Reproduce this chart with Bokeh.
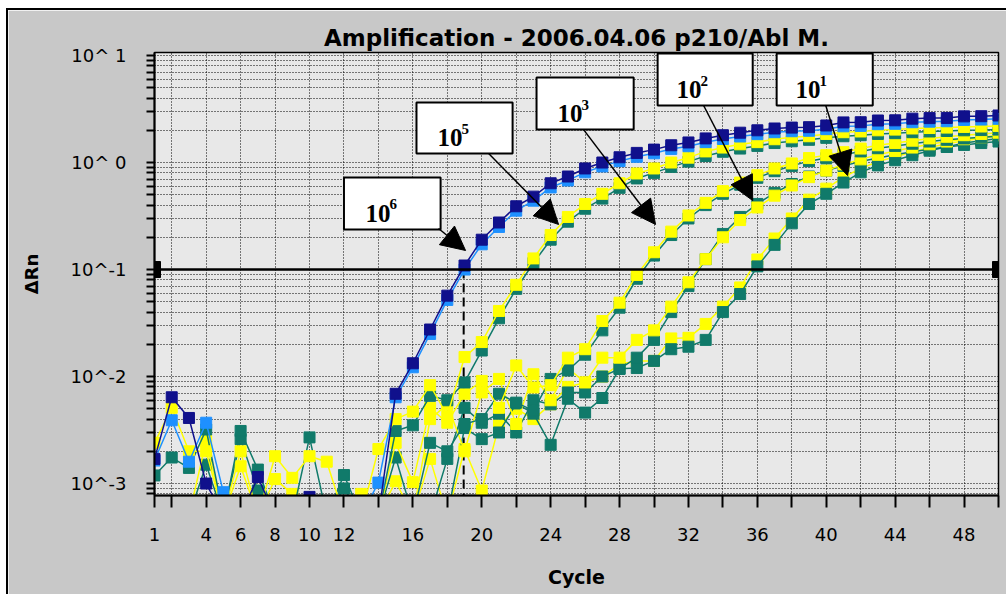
from bokeh.plotting import figure
from bokeh.models import (Range1d, FixedTicker, CustomJSTickFormatter, Span, BoxAnnotation,
                          Label, Arrow, NormalHead)
from bokeh.embed import file_html
from bokeh.resources import INLINE

# ---------------- data ----------------
cycles = list(range(1, 51))

# 10^6 (two replicates)
n6 = [1.7e-3, 6.4e-3, 4.1e-3, 1.0e-3, 5e-4, 5e-4, 1.15e-3, 5e-4, 5e-4, 7.5e-4,
      5e-4, 5e-4, 5e-4, 5e-4, 6.9e-3, 1.33e-2, 2.75e-2, 5.7e-2, 0.109, 0.19,
      0.275, 0.39, 0.48, 0.64, 0.74, 0.88, 1.0, 1.12, 1.23, 1.32,
      1.45, 1.54, 1.68, 1.8, 1.9, 2.0, 2.08, 2.12, 2.14, 2.22,
      2.37, 2.38, 2.47, 2.48, 2.57, 2.6, 2.61, 2.7, 2.71, 2.75]
b6 = [1.64e-3, 3.9e-3, 1.6e-3, 3.7e-3, 8.3e-4, 5e-4, 5e-4, 5e-4, 5e-4, 5e-4,
      5e-4, 5e-4, 5e-4, 1.02e-3, 6.4e-3, 1.22e-2, 2.5e-2, 5.2e-2, 0.1, 0.172,
      0.25, 0.355, 0.44, 0.585, 0.68, 0.81, 0.92, 1.03, 1.13, 1.22,
      1.34, 1.42, 1.55, 1.66, 1.75, 1.84, 1.92, 1.96, 1.98, 2.05,
      2.18, 2.2, 2.28, 2.3, 2.38, 2.41, 2.43, 2.5, 2.52, 2.56]
# 10^5
y5 = [2.4e-3, 5.1e-3, 2.0e-3, 2.0e-3, 5e-4, 2.0e-3, 5e-4, 1.8e-3, 1.13e-3, 1.8e-3,
      1.6e-3, 5e-4, 5e-4, 2.1e-3, 4.0e-3, 4.7e-3, 8.3e-3, 4.3e-3, 1.52e-2, 2.1e-2,
      4.1e-2, 7.2e-2, 0.127, 0.21, 0.31, 0.41, 0.51, 0.64, 0.79, 0.88,
      1.0, 1.11, 1.27, 1.38, 1.48, 1.55, 1.65, 1.72, 1.76, 1.85,
      1.92, 1.95, 2.0, 2.03, 2.08, 2.1, 2.12, 2.15, 2.17, 2.2]
t5 = [1.19e-3, 1.75e-3, 1.4e-3, 3.2e-3, 5e-4, 3.1e-3, 1.35e-3, 5e-4, 5e-4, 2.7e-3,
      5e-4, 1.2e-3, 5e-4, 5e-4, 3.1e-3, 3.5e-3, 6.6e-3, 6.0e-3, 8.8e-3, 1.75e-2,
      3.5e-2, 6.6e-2, 0.115, 0.19, 0.28, 0.37, 0.46, 0.58, 0.71, 0.8,
      0.91, 1.02, 1.15, 1.26, 1.35, 1.43, 1.52, 1.58, 1.63, 1.7,
      1.76, 1.8, 1.85, 1.88, 1.92, 1.95, 1.97, 2.0, 2.01, 2.03]
# 10^3
y3 = [5e-4, 5e-4, 5e-4, 2.5e-3, 5e-4, 1.45e-3, 5e-4, 1.1e-3, 8e-4, 5e-4,
      5e-4, 5e-4, 8e-4, 5e-4, 2.4e-3, 1.03e-3, 5.1e-3, 3.7e-3, 6.9e-3, 9.1e-3,
      5.1e-3, 1.27e-2, 7.9e-3, 8.3e-3, 1.5e-2, 1.8e-2, 3.3e-2, 4.9e-2, 8.9e-2, 0.145,
      0.226, 0.32, 0.42, 0.54, 0.65, 0.76, 0.88, 0.98, 1.1, 1.17,
      1.25, 1.35, 1.45, 1.52, 1.6, 1.68, 1.74, 1.8, 1.85, 1.9]
t3 = [5e-4, 5e-4, 5e-4, 1.5e-3, 5e-4, 2.6e-3, 8.6e-4, 5e-4, 5e-4, 5e-4,
      5e-4, 9e-4, 5e-4, 5e-4, 1.75e-3, 5e-4, 2.4e-3, 2.0e-3, 3.6e-3, 4.0e-3,
      6.9e-3, 5.7e-3, 4.8e-3, 9.5e-3, 1.14e-2, 1.6e-2, 2.7e-2, 4.4e-2, 8.2e-2, 0.135,
      0.21, 0.3, 0.4, 0.51, 0.62, 0.72, 0.83, 0.93, 1.03, 1.1,
      1.18, 1.27, 1.36, 1.43, 1.5, 1.57, 1.63, 1.68, 1.72, 1.76]
# 10^2
y2 = [5e-4, 5e-4, 5e-4, 5e-4, 5e-4, 5e-4, 5e-4, 5e-4, 5e-4, 5e-4,
      5e-4, 5e-4, 5e-4, 5e-4, 1.05e-3, 5e-4, 4.0e-3, 5.5e-3, 2.0e-3, 7.1e-3,
      9.5e-3, 3.6e-3, 1.05e-2, 6.0e-3, 1.2e-2, 8.8e-3, 1.5e-2, 1.5e-2, 2.2e-2, 2.7e-2,
      4.5e-2, 7.6e-2, 0.125, 0.2, 0.29, 0.38, 0.49, 0.61, 0.73, 0.84,
      0.96, 1.07, 1.18, 1.28, 1.38, 1.48, 1.57, 1.65, 1.72, 1.8]
t2 = [5e-4, 5e-4, 5e-4, 5e-4, 5e-4, 5e-4, 5e-4, 5e-4, 5e-4, 5e-4,
      5e-4, 5e-4, 5e-4, 5e-4, 5e-4, 5e-4, 5e-4, 1.7e-3, 5.1e-3, 3.7e-3,
      4.5e-3, 3.0e-3, 6.0e-3, 5.5e-3, 7.1e-3, 7.1e-3, 1.0e-2, 1.18e-2, 1.5e-2, 2.2e-2,
      4.0e-2, 7.0e-2, 0.125, 0.215, 0.31, 0.41, 0.52, 0.63, 0.74, 0.84,
      0.93, 1.02, 1.1, 1.18, 1.26, 1.33, 1.4, 1.46, 1.52, 1.57]
# 10^1
y1 = [5e-4, 5e-4, 5e-4, 5e-4, 5e-4, 5e-4, 5e-4, 5e-4, 5e-4, 5e-4,
      5e-4, 5e-4, 5e-4, 5e-4, 5e-4, 5e-4, 1.7e-3, 5e-4, 2.1e-3, 8.6e-4,
      3.5e-3, 5.0e-3, 4.0e-3, 5.5e-3, 8.0e-3, 8.8e-3, 1.0e-2, 1.3e-2, 1.4e-2, 1.4e-2,
      2.27e-2, 2.3e-2, 3.1e-2, 4.5e-2, 6.8e-2, 0.124, 0.195, 0.3, 0.45, 0.57,
      0.73, 0.88, 1.02, 1.13, 1.25, 1.38, 1.5, 1.6, 1.68, 1.76]
t1 = [5e-4, 5e-4, 5e-4, 5e-4, 5e-4, 5e-4, 5e-4, 5e-4, 5e-4, 5e-4,
      5e-4, 5e-4, 5e-4, 5e-4, 5e-4, 5e-4, 5e-4, 5e-4, 3.3e-3, 2.6e-3,
      3.0e-3, 5.6e-3, 4.5e-3, 2.3e-3, 6.2e-3, 4.6e-3, 6.3e-3, 1.18e-2, 1.2e-2, 1.4e-2,
      1.8e-2, 1.9e-2, 2.2e-2, 4.0e-2, 5.9e-2, 0.107, 0.17, 0.27, 0.41, 0.51,
      0.65, 0.81, 0.94, 1.05, 1.17, 1.29, 1.4, 1.52, 1.6, 1.68]

threshold = 0.1
ct_10e6 = 18.95

x_ticks = [1, 2, 4, 6, 8, 10, 12, 14, 16, 18, 20, 22, 24, 26, 28, 30, 32, 34,
           36, 38, 40, 42, 44, 46, 48, 50]
x_labeled = [1, 4, 6, 8, 10, 12, 16, 20, 24, 28, 32, 36, 40, 44, 48]
y_ticks = [1e-3, 1e-2, 1e-1, 1, 10]

title_text = "Amplification - 2006.04.06 p210/Abl M."

# annotation boxes (dilution labels)
box_exp = ["6", "5", "3", "2", "1"]
box_left = [12.0, 16.21, 23.18, 30.21, 37.12]
box_right = [17.61, 21.79, 28.82, 35.73, 42.70]
box_top = [0.724, 3.64, 6.22, 10.45, 10.45]
box_bottom = [0.237, 1.213, 2.03, 3.41, 3.41]
text_x = [13.25, 17.43, 24.40, 31.31, 38.22]
text_y = [0.334, 1.713, 2.87, 4.81, 4.81]
exp_x = [14.64, 18.82, 25.79, 32.70, 39.61]
exp_y = [0.414, 2.078, 3.48, 5.83, 5.83]
arrow_x0 = [17.49, 20.40, 25.91, 32.88, 39.97]
arrow_y0 = [0.2416, 1.213, 2.03, 3.41, 3.41]
arrow_x1 = [19.06, 24.46, 30.09, 35.73, 41.24]
arrow_y1 = [0.1506, 0.2636, 0.2636, 0.441, 0.756]

NAVY = "#10108c"
BLUE = "#1e90ff"
YELLOW = "#ffff00"
TEAL = "#107a6a"

series = [
    (y1, YELLOW), (t1, TEAL),
    (t2, TEAL), (y2, YELLOW),
    (t3, TEAL), (y3, YELLOW),
    (t5, TEAL), (y5, YELLOW),
    (b6, BLUE), (n6, NAVY),
]

# ---------------- figure ----------------
p = figure(width=1000, height=586, y_axis_type="log",
           x_range=Range1d(1, 50), y_range=Range1d(7.73e-4, 10.67),
           output_backend="svg", toolbar_location=None,
           min_border_left=146, min_border_right=10,
           min_border_top=42, min_border_bottom=101)
p.margin = (8, 0, 0, 6)
p.styles = {"border-top": "2px solid black", "border-left": "2px solid black"}

p.border_fill_color = "#c8c8c8"
p.background_fill_color = "#e8e8e8"
p.outline_line_color = "black"
p.outline_line_width = 1.5

p.title.text = title_text
p.title.align = "center"
p.title.text_font = "DejaVu Sans"
p.title.text_font_size = "23px"
p.title.text_font_style = "bold"
p.title.text_color = "black"
p.title.standoff = 3

# x axis
xa = p.xaxis[0]
xa.ticker = FixedTicker(ticks=x_ticks)
xa.formatter = CustomJSTickFormatter(args=dict(shown=x_labeled),
                                     code="return shown.includes(tick) ? String(tick) : '';")
xa.axis_label = "Cycle"
xa.axis_label_text_font = "DejaVu Sans"
xa.axis_label_text_font_size = "19px"
xa.axis_label_text_font_style = "bold"
xa.axis_label_text_color = "black"
xa.axis_label_standoff = 22
xa.major_label_text_font = "DejaVu Sans"
xa.major_label_text_font_size = "18px"
xa.major_label_text_color = "black"
xa.major_label_standoff = 20
xa.major_tick_out = 12
xa.major_tick_in = 0
xa.major_tick_line_width = 2
xa.major_tick_line_color = "black"
xa.minor_tick_line_color = None
xa.axis_line_width = 2
xa.axis_line_color = "black"

# y axis
minor = [m * 10.0 ** e for e in range(-4, 2) for m in range(2, 10)]
ya = p.yaxis[0]
ya.ticker = FixedTicker(ticks=y_ticks, minor_ticks=minor)
ya.formatter = CustomJSTickFormatter(
    code="const e = Math.round(Math.log10(tick)); return (e >= 0 ? '10^ ' : '10^') + e;")
ya.axis_label = "ΔRn"
ya.axis_label_text_font = "DejaVu Sans"
ya.axis_label_text_font_size = "18px"
ya.axis_label_text_font_style = "bold"
ya.axis_label_text_color = "black"
ya.axis_label_standoff = 26
ya.major_label_text_font = "DejaVu Sans"
ya.major_label_text_font_size = "18px"
ya.major_label_text_color = "black"
ya.major_label_standoff = 20
ya.major_tick_out = 8
ya.major_tick_in = 0
ya.minor_tick_out = 8
ya.minor_tick_in = 0
ya.major_tick_line_width = 2
ya.minor_tick_line_width = 2
ya.major_tick_line_color = "black"
ya.minor_tick_line_color = "black"
ya.axis_line_width = 2
ya.axis_line_color = "black"

# grids: dotted
for g in (p.xgrid[0], p.ygrid[0]):
    g.grid_line_color = "black"
    g.grid_line_dash = "1 2"
    g.grid_line_width = 1
    g.grid_line_alpha = 1
p.ygrid[0].minor_grid_line_color = "black"
p.ygrid[0].minor_grid_line_dash = "1 2"
p.ygrid[0].minor_grid_line_width = 1
p.ygrid[0].minor_grid_line_alpha = 1

# threshold line and handles
p.add_layout(Span(location=threshold, dimension="width", line_color="black", line_width=2.5))
p.rect(x=[1, 50], y=[threshold, threshold], width=12, height=16,
       width_units="screen", height_units="screen", color="black")

# Ct marker dashed line
p.segment(x0=[ct_10e6], y0=[threshold], x1=[ct_10e6], y1=[5e-4],
          line_color="black", line_width=2, line_dash="9 5")

# curves
for vals, col in series:
    p.line(cycles, vals, line_color=col, line_width=1.5)
    p.scatter(cycles, vals, marker="square", size=11, fill_color=col, line_color=col)

# boxes, labels, arrows
for i in range(len(box_exp)):
    p.add_layout(BoxAnnotation(left=box_left[i], right=box_right[i], top=box_top[i],
                               bottom=box_bottom[i], fill_color="white", fill_alpha=1,
                               line_color="black", line_width=2, line_alpha=1))
for i in range(len(box_exp)):
    p.add_layout(Arrow(end=NormalHead(size=24, fill_color="black", line_color="black"),
                       x_start=arrow_x0[i], y_start=arrow_y0[i],
                       x_end=arrow_x1[i], y_end=arrow_y1[i],
                       line_color="black", line_width=1.5))
    p.add_layout(Label(x=text_x[i], y=text_y[i], text="10", text_font="Liberation Serif",
                       text_font_style="bold", text_font_size="25px",
                       text_baseline="alphabetic", text_align="left", text_color="black"))
    p.add_layout(Label(x=exp_x[i], y=exp_y[i], text=box_exp[i], text_font="Liberation Serif",
                       text_font_style="bold", text_font_size="15px",
                       text_baseline="alphabetic", text_align="left", text_color="black"))

open("out.html", "w").write(file_html(p, INLINE))
